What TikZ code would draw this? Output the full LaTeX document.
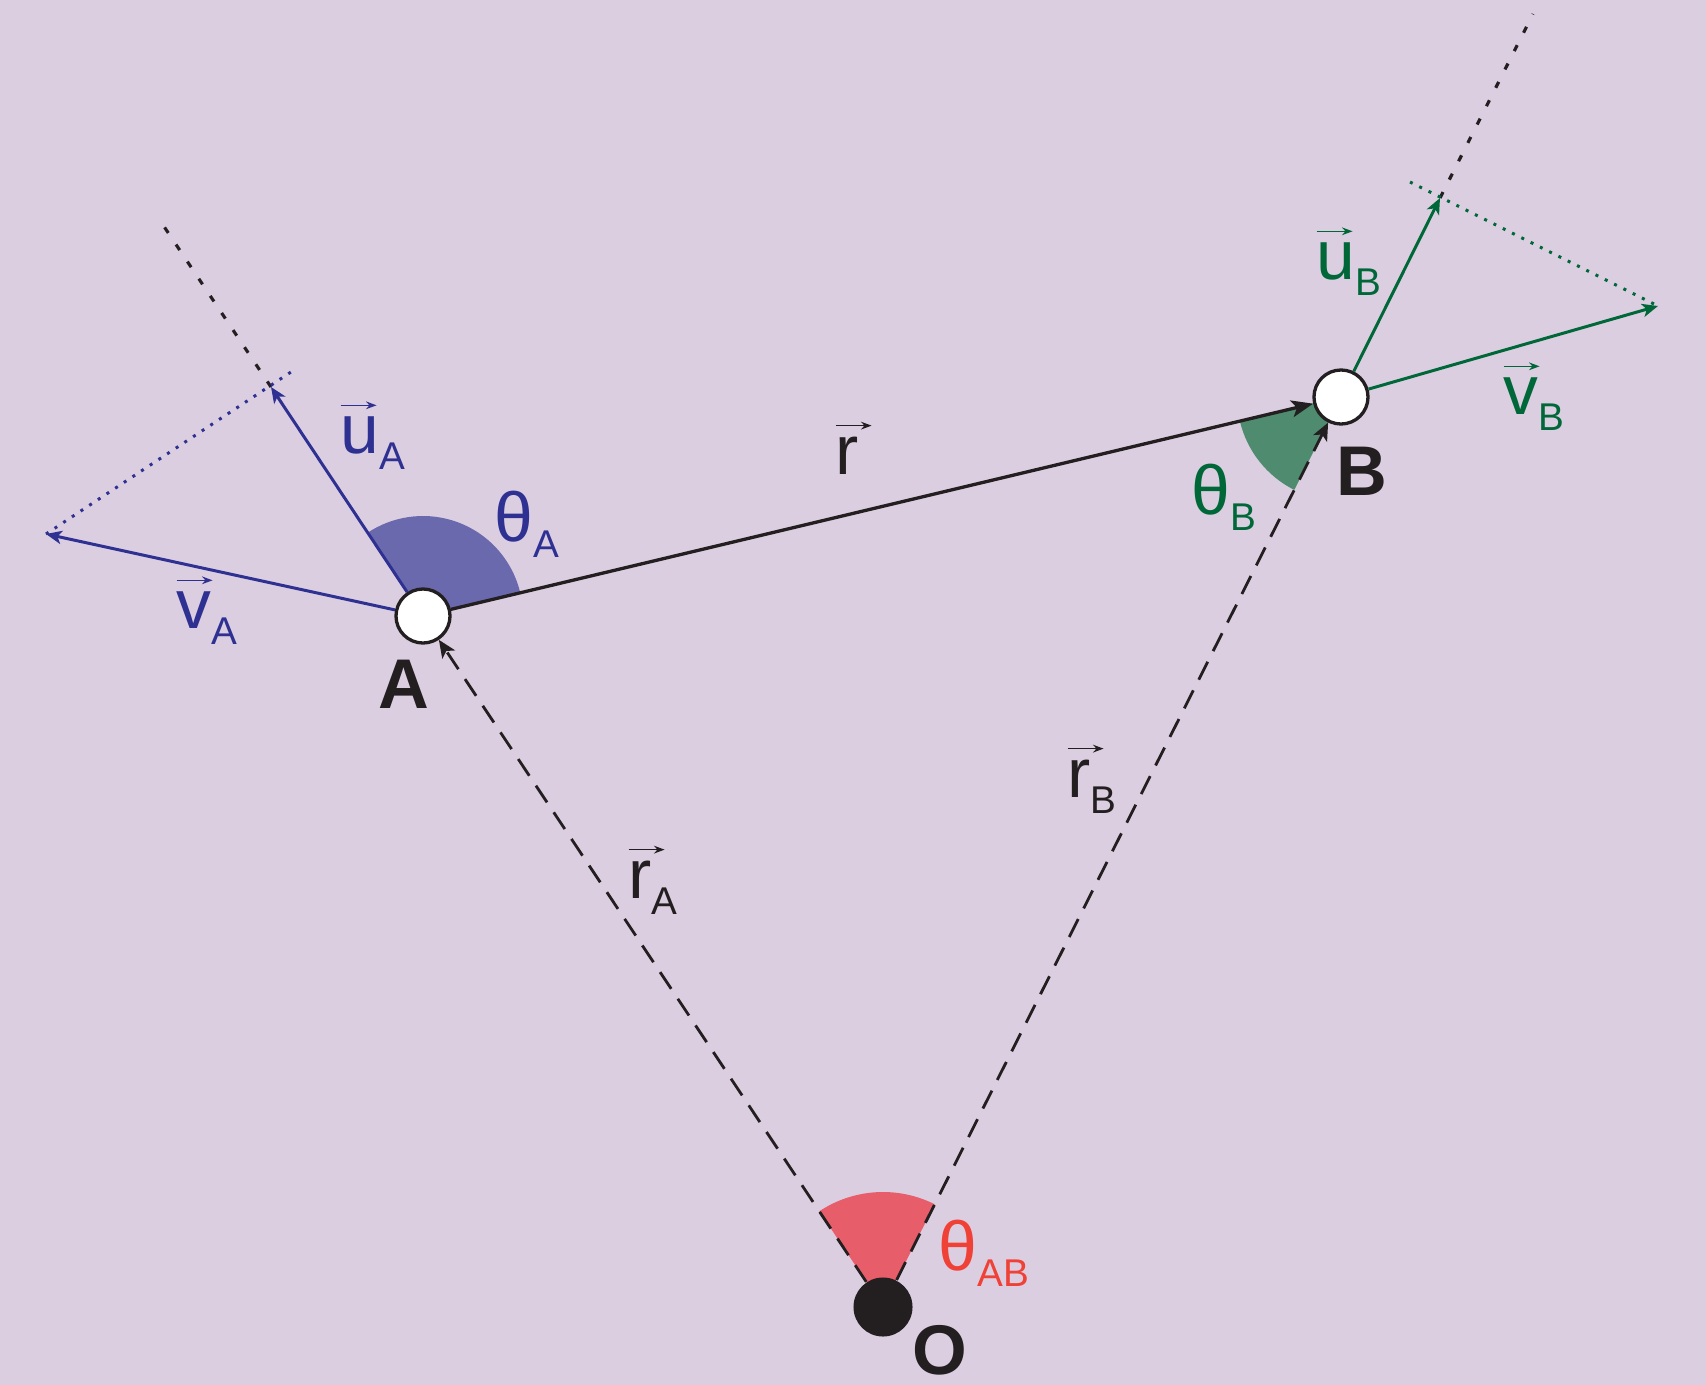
\documentclass[tikz,border=0pt]{standalone}
\usepackage{fontspec}
\setmainfont{Liberation Sans}
\usetikzlibrary{arrows.meta,calc,backgrounds}

\definecolor{bgpurple}{RGB}{220,206,225}
\definecolor{vecblue}{RGB}{46,49,146}
\definecolor{secblue}{RGB}{107,105,173}
\definecolor{vecgreen}{RGB}{0,104,56}
\definecolor{secgreen}{RGB}{78,139,111}
\definecolor{angred}{RGB}{239,65,54}
\definecolor{secred}{RGB}{231,93,106}
\definecolor{inkblack}{RGB}{35,31,32}

% letter with a small arrow above it
\newcommand{\vecsym}[1]{\tikz[baseline=(ltr.base)]{\node[inner sep=0pt, outer sep=0pt, anchor=base] (ltr) at (0,0) {#1};
    \draw[overlay, line width=0.45pt, -{Stealth[length=3pt, width=2.2pt]}] ([yshift=3.1pt]ltr.north west) -- ++(10.2pt,0);}}
\newcommand{\subsc}[1]{\raisebox{-4.8pt}{\fontsize{11}{12}\selectfont #1}}

\begin{document}
\begin{tikzpicture}[
    x=0.01cm, y=0.01cm,
    mass/.style={circle, draw=inkblack, fill=white, line width=0.94pt, minimum size=0.54cm, inner sep=0pt},
    origin/.style={circle, fill=inkblack, minimum size=0.59cm, inner sep=0pt},
    vecA/.style={vecblue, line width=0.85pt, -{Stealth[length=4.5pt, width=3.8pt, inset=1.2pt]}},
    vecB/.style={vecgreen, line width=0.85pt, -{Stealth[length=4.5pt, width=3.8pt, inset=1.2pt]}},
    posvec/.style={inkblack, line width=0.8pt, dash pattern=on 5.7pt off 3.4pt, -{Stealth[length=5pt, width=4.3pt, inset=1.2pt]}},
    relvec/.style={inkblack, line width=0.94pt, -{Stealth[length=6.2pt, width=4.8pt, inset=1.5pt]}},
    axisline/.style={inkblack, line width=0.9pt, dash pattern=on 1.9pt off 3.95pt},
    projline/.style={line width=0.85pt, dash pattern=on 0.85pt off 2.1pt},
    lbl/.style={inner sep=0pt, anchor=base west, font=\fontsize{19.8}{22}\selectfont},
    ptlbl/.style={inner sep=0pt, anchor=base, font=\fontsize{20}{22}\selectfont\bfseries, text=inkblack},
]
\useasboundingbox (0,0) rectangle (1706,-1385);

% ================== Points ==================
\node[mass] (A) at (423,-616) {};
\node[mass] (B) at (1341,-397) {};
\node[origin] (O) at (883,-1307) {};

\node[ptlbl] (Alab) at (404,-708) {A};
\node[ptlbl] (Blab) at (1362,-495) {B};
\node[ptlbl] (Olab) at (940,-1374) {O};

\coordinate (uAtip) at (271,-387);
\coordinate (uAend) at (161,-222);
\coordinate (vAtip) at (46,-534);
\coordinate (pAend) at (291,-372);
\coordinate (uBtip) at (1440,-198);
\coordinate (uBend) at (1533,-14);
\coordinate (vBtip) at (1658,-306);
\coordinate (pBend) at (1410,-182);

% ================== Background and angles ==================
\begin{scope}[on background layer]
\fill[bgpurple] (0,0) rectangle (1706,-1385);
\fill[secblue] (A.center) -- ++(13.4:100) arc[start angle=13.4, end angle=123.7, radius=100] -- cycle;
\fill[secgreen] (B.center) -- ++(193.4:104) arc[start angle=193.4, end angle=243.3, radius=104] -- cycle;
\fill[secred] (O.center) -- ++(63.3:115) arc[start angle=63.3, end angle=123.6, radius=115] -- cycle;
\end{scope}

% ================== Position vectors ==================
\draw[posvec] (O) -- (A);
\draw[posvec] (O) -- (B);
\draw[relvec] (A) -- (B);

% ================== Velocities ==================
\draw[axisline] (uAtip) -- (uAend);
\draw[projline, vecblue] (vAtip) -- (pAend);
\draw[vecA] (A) -- (uAtip);
\draw[vecA] (A) -- (vAtip);

\draw[axisline] (uBtip) -- (uBend);
\draw[projline, vecgreen] (pBend) -- (vBtip);
\draw[vecB] (B) -- (uBtip);
\draw[vecB] (B) -- (vBtip);

% ================== Labels ==================
\node[lbl, text=inkblack] (rlab) at (835,-474) {\vecsym{r}};
\node[lbl, text=inkblack] (rAlab) at (628,-898) {\vecsym{r}\subsc{A}};
\node[lbl, text=inkblack] (rBlab) at (1067,-797) {\vecsym{r}\subsc{B}};
\node[lbl, text=vecblue] (uAlab) at (340,-453) {\vecsym{u}\subsc{A}};
\node[lbl, text=vecblue] (vAlab) at (176,-628) {\vecsym{v}\subsc{A}};
\node[lbl, text=vecgreen] (uBlab) at (1316,-279) {\vecsym{u}\subsc{B}};
\node[lbl, text=vecgreen] (vBlab) at (1503,-414) {\vecsym{v}\subsc{B}};
\node[lbl, text=vecblue] (thAlab) at (494,-541) {θ\subsc{A}};
\node[lbl, text=vecgreen] (thBlab) at (1191,-514) {θ\subsc{B}};
\node[lbl, text=angred] (thABlab) at (938,-1270) {θ\subsc{AB}};

\end{tikzpicture}
\end{document}
